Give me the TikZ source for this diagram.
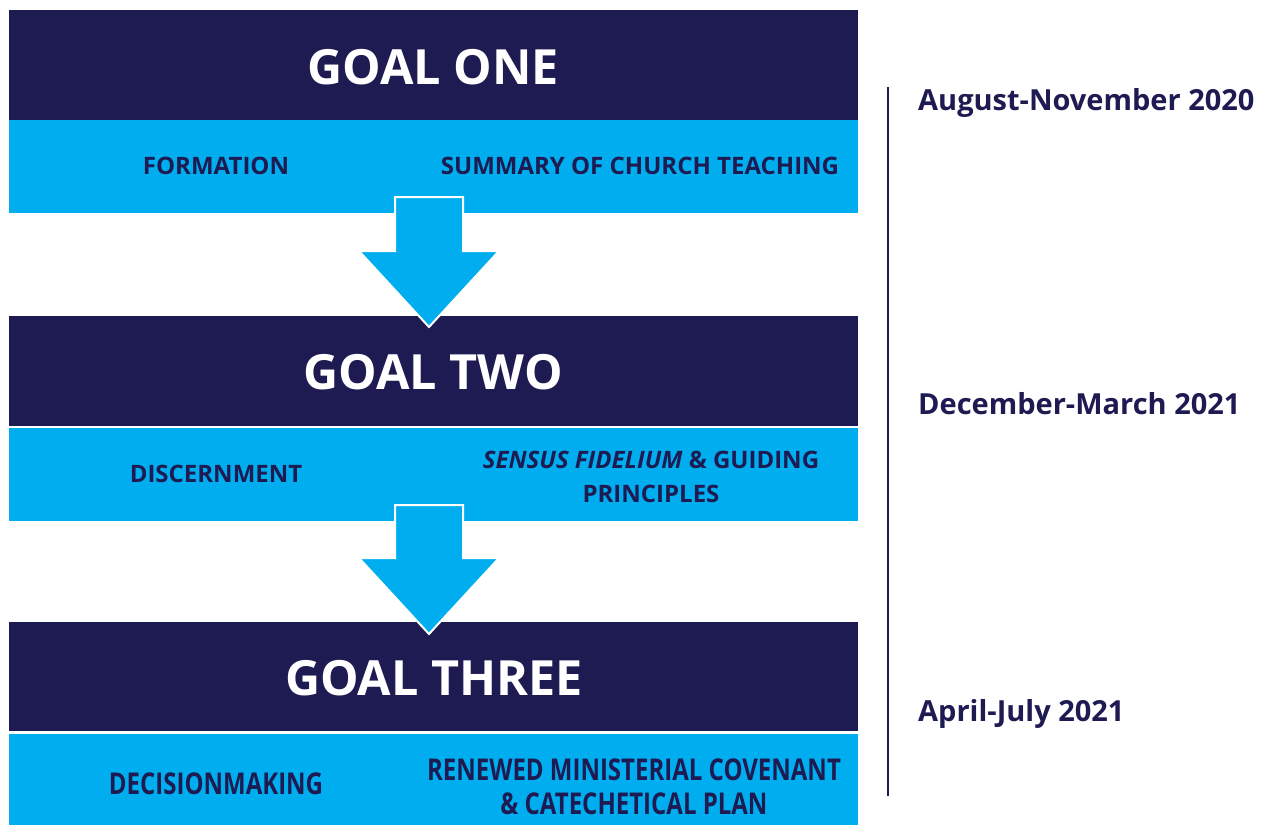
\documentclass[tikz,border=0pt]{standalone}
\usepackage{fontspec}
\setmainfont{Open Sans}
\definecolor{navy}{RGB}{30,26,82}
\definecolor{sky}{RGB}{0,174,239}
\begin{document}
\begin{tikzpicture}[x=1pt,y=-1pt,
  darkbox/.style={fill=navy,draw=none},
  lightbox/.style={fill=sky,draw=none},
  goaltext/.style={text=white,font=\fontsize{48.5}{56}\selectfont\bfseries,inner sep=0pt},
  subtext/.style={text=navy,font=\fontsize{24}{34}\selectfont\bfseries,align=center,inner sep=0pt},
  datetext/.style={text=navy,font=\fontsize{29}{34}\selectfont\bfseries,anchor=west,inner sep=0pt},
  downarrow/.style={fill=sky,draw=white,line width=2pt,line join=miter}
]
\useasboundingbox (0,0) rectangle (1269,825);
% boxes
\fill[darkbox] (9,10) rectangle (858,120);
\fill[lightbox] (9,120) rectangle (858,213);
\fill[darkbox] (9,316) rectangle (858,426);
\fill[lightbox] (9,428) rectangle (858,521);
\fill[darkbox] (9,622) rectangle (858,731);
\fill[lightbox] (9,734) rectangle (858,825);
% arrows
\draw[downarrow] (395,197) -- (463,197) -- (463,251) -- (499,251) -- (429,327) -- (359,251) -- (395,251) -- cycle;
\draw[downarrow] (395,505) -- (463,505) -- (463,558) -- (499,558) -- (429,634) -- (359,558) -- (395,558) -- cycle;
% titles
\node[goaltext] (g1) at (433,67) {GOAL ONE};
\node[goaltext] (g2) at (433,372) {GOAL TWO};
\node[goaltext] (g3) at (434,678) {GOAL THREE};
% sub texts
\node[subtext] (s1a) at (216,166) {FORMATION};
\node[subtext] (s1b) at (640,166) {SUMMARY OF CHURCH TEACHING};
\node[subtext] (s2a) at (216,474) {DISCERNMENT};
\node[subtext] (s2b) at (651,477) {\textit{SENSUS FIDELIUM} \& GUIDING\\PRINCIPLES};
\node[subtext] (s3a) at (216,784) {\scalebox{1}[1.25]{DECISIONMAKING}};
\node[subtext] (s3b) at (634,787) {\scalebox{1}[1.25]{RENEWED MINISTERIAL COVENANT}\\\scalebox{1}[1.25]{\& CATECHETICAL PLAN}};
% timeline
\draw[navy,line width=2pt] (888,87) coordinate (t0) -- (888,796) coordinate (t1);
\node[datetext] (d1) at (918,103) {August-November 2020};
\node[datetext] (d2) at (918,404) {December-March 2021};
\node[datetext] (d3) at (918,714) {April-July 2021};
\end{tikzpicture}
\end{document}
